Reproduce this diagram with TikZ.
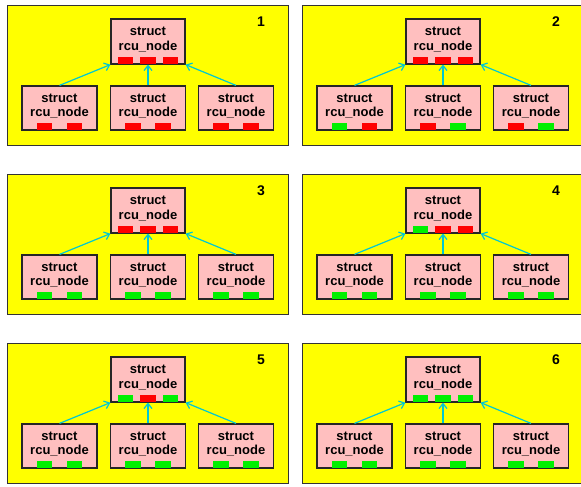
\documentclass[tikz,border=0pt]{standalone}
\usepackage{fontspec}
\setmainfont{Liberation Sans}
\usetikzlibrary{arrows.meta}
\definecolor{pinkc}{HTML}{FFBFBF}
\definecolor{bitr}{HTML}{FF0000}
\definecolor{bitg}{HTML}{00F000}
\definecolor{cyanc}{HTML}{00C8D2}
\definecolor{yel}{HTML}{FFFF00}
\tikzset{
 panelbox/.style={draw=black!80, line width=1.4pt, fill=yel, inner sep=0, minimum width=281pt, minimum height=140pt},
 rcubox/.style={draw=black!85, line width=1.2pt, fill=pinkc, inner sep=0, minimum width=74pt, minimum height=45pt},
 childbox/.style={rcubox, minimum width=75pt, minimum height=44pt},
 bitbox/.style={inner sep=0, minimum width=15.5pt, minimum height=7pt},
 lbl/.style={font=\bfseries\fontsize{13}{14.5}\selectfont, align=center, inner sep=0},
 numlbl/.style={font=\bfseries\fontsize{14}{16}\selectfont, inner sep=0},
 conn/.style={draw=cyanc, line width=1.2pt, -{Straight Barb[length=5pt,width=8pt]}},
}
\newcommand\rcupanel[5]{%
 \begin{scope}[shift={(#1,#2)}]
  \node[panelbox, anchor=north west] (P#3) at (7,5) {};
  \node[numlbl] (N#3) at (261,22) {#3};
  \node[rcubox] (T#3) at (148,41.5) {};
  \node[lbl] (TL#3) at ([yshift=2pt]T#3.center) {struct\\rcu\_node};
  \foreach \c [count=\i] in {#4} {
    \node[bitbox, fill=\c] (TB\i p#3) at ([xshift={(\i-2)*22.5}, yshift=4pt]T#3.south) {};
  }
  \foreach \a/\b/\x [count=\k] in {#5} {
    \node[childbox] (C\k p#3) at (\x,108) {};
    \node[lbl] (CL\k p#3) at ([yshift=2pt]C\k p#3.center) {struct\\rcu\_node};
    \node[bitbox, fill=\a] (CBa\k p#3) at ([xshift=-15pt, yshift=4pt]C\k p#3.south) {};
    \node[bitbox, fill=\b] (CBb\k p#3) at ([xshift=15pt, yshift=4pt]C\k p#3.south) {};
  }
  \draw[conn] (C1p#3.north) -- (T#3.south west);
  \draw[conn] (C2p#3.north) -- (T#3.south);
  \draw[conn] (C3p#3.north) -- (T#3.south east);
 \end{scope}}
\begin{document}
\begin{tikzpicture}[x=1pt,y=-1pt]
\useasboundingbox[fill=white] (0,0) rectangle (581,487);
\rcupanel{0}{0}{1}{bitr,bitr,bitr}{bitr/bitr/59.5,bitr/bitr/148,bitr/bitr/236}
\rcupanel{295}{0}{2}{bitr,bitr,bitr}{bitg/bitr/59.5,bitr/bitg/148,bitr/bitg/236}
\rcupanel{0}{169}{3}{bitr,bitr,bitr}{bitg/bitg/59.5,bitg/bitg/148,bitg/bitg/236}
\rcupanel{295}{169}{4}{bitg,bitr,bitr}{bitg/bitg/59.5,bitg/bitg/148,bitg/bitg/236}
\rcupanel{0}{338}{5}{bitg,bitr,bitg}{bitg/bitg/59.5,bitg/bitg/148,bitg/bitg/236}
\rcupanel{295}{338}{6}{bitg,bitg,bitg}{bitg/bitg/59.5,bitg/bitg/148,bitg/bitg/236}
\end{tikzpicture}
\end{document}
